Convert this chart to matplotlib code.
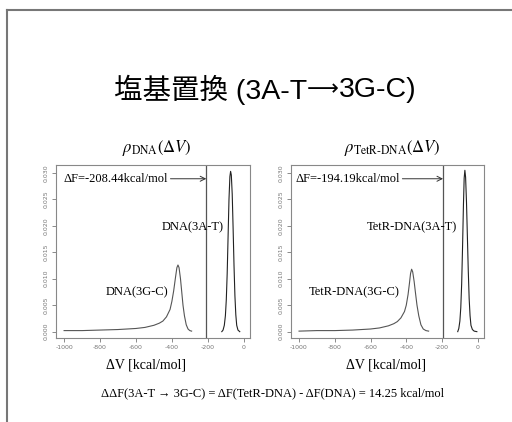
import matplotlib
matplotlib.use("Agg")
import matplotlib.pyplot as plt
from matplotlib.lines import Line2D

# density curves (x: dV in kcal/mol, y: density)
dna_gc_x = [-1000, -900, -800, -700, -600, -550, -500, -470, -450, -430, -410, -400,
            -390, -380, -372, -366, -360, -352, -345, -338, -330, -320, -310, -300, -290]
dna_gc_y = [0.0002, 0.0002, 0.0003, 0.0004, 0.0006, 0.0008, 0.0012, 0.0016, 0.0020,
            0.0028, 0.0042, 0.0057, 0.0077, 0.0102, 0.0121, 0.0126, 0.0121, 0.0100,
            0.0075, 0.0050, 0.0030, 0.0013, 0.0005, 0.0002, 0.0001]
dna_at_x = [-122, -115, -108, -102, -97, -92, -87, -82, -77, -73, -69, -64, -59,
            -54, -49, -44, -39, -32, -22]
dna_at_y = [0.0000, 0.0003, 0.0012, 0.0030, 0.0060, 0.0110, 0.0180, 0.0250, 0.0293,
            0.0303, 0.0296, 0.0260, 0.0195, 0.0125, 0.0068, 0.0032, 0.0012, 0.0003, 0.0000]

tet_gc_x = [-1000, -900, -800, -700, -600, -550, -500, -470, -450, -430, -410, -400,
            -390, -382, -376, -370, -364, -356, -348, -340, -330, -318, -305, -290, -275]
tet_gc_y = [0.0001, 0.0002, 0.0002, 0.0003, 0.0005, 0.0007, 0.0011, 0.0015, 0.0019,
            0.0026, 0.0038, 0.0050, 0.0070, 0.0092, 0.0110, 0.0118, 0.0113, 0.0095,
            0.0072, 0.0050, 0.0030, 0.0013, 0.0005, 0.0002, 0.0001]
tet_at_x = [-112, -106, -100, -95, -90, -85, -80, -76, -72, -68, -63, -58, -53,
            -48, -43, -38, -30, -20, -5]
tet_at_y = [0.0000, 0.0006, 0.0020, 0.0045, 0.0090, 0.0160, 0.0240, 0.0290, 0.0305,
            0.0292, 0.0245, 0.0180, 0.0115, 0.0062, 0.0030, 0.0012, 0.0004, 0.0001, 0.0000]

dF_dna = -208.44
dF_tet = -194.19
xticks = [-1000, -800, -600, -400, -200, 0]
yticks = [0.000, 0.005, 0.010, 0.015, 0.020, 0.025, 0.030]
title_parts = ['塩基置換 (3A-T', '⟶', '3G-C)']

plt.rcParams['mathtext.fontset'] = 'stix'
serif = ['Liberation Serif', 'DejaVu Serif']
sans_jp = ['Liberation Sans', 'Noto Sans CJK JP']

fig = plt.figure(figsize=(5.12, 4.22), dpi=100)
fig.patch.set_facecolor('white')

# slide frame
fig.add_artist(Line2D([7/512, 1.0], [1-10/422, 1-10/422], color='#777777', lw=1.5))
fig.add_artist(Line2D([7/512, 7/512], [0.0, 1-10/422], color='#777777', lw=1.5))

# title in pieces so the arrow can come from another font (long thin arrow)
fams = [sans_jp, ['DejaVu Sans'], sans_jp]
sizes = [20.5, 16, 20.5]
renderer = fig.canvas.get_renderer()
pieces = [fig.text(0, 0.787, p, ha='left', va='center', fontsize=s, family=f)
          for p, f, s in zip(title_parts, fams, sizes)]
widths = [t.get_window_extent(renderer).width / fig.bbox.width for t in pieces]
x = 0.518 - sum(widths) / 2
for t, w in zip(pieces, widths):
    t.set_x(x)
    x += w
pieces[1].set_y(0.789)


def panel(rect, gc_x, gc_y, at_x, at_y, dF, label_at, label_gc, pos_at, pos_gc, txt_x):
    ax = fig.add_axes(rect)
    ax.plot(gc_x, gc_y, color='#555555', lw=0.8)
    ax.plot(at_x, at_y, color='#222222', lw=0.8)
    ax.axvline(dF, color='#555555', lw=0.9)
    ax.set_xlim(-1045, 35)
    ax.set_ylim(-0.0012, 0.0315)
    ax.set_xticks(xticks)
    ax.set_yticks(yticks)
    ax.set_xticklabels([str(t) for t in xticks])
    ax.set_yticklabels(['%.3f' % t for t in yticks], rotation=90, va='center')
    ax.tick_params(labelsize=4.5, colors='#777777', length=3, width=0.6, pad=2)
    for s in ax.spines.values():
        s.set_color('#888888')
        s.set_linewidth(0.8)
    ax.annotate('ΔF=%.2fkcal/mol' % dF, xy=(dF, 0.0289), xytext=(txt_x, 0.0289),
                ha='left', va='center', fontsize=9, family=serif,
                arrowprops=dict(arrowstyle='->', color='#333333', lw=0.7,
                                shrinkA=0, shrinkB=0))
    ax.text(pos_at[0], pos_at[1], label_at, ha='center', va='center', fontsize=9, family=serif)
    ax.text(pos_gc[0], pos_gc[1], label_gc, ha='center', va='center', fontsize=9, family=serif)
    return ax


panel([56/512, 1-338/422, 194/512, 173/422], dna_gc_x, dna_gc_y, dna_at_x, dna_at_y,
      dF_dna, 'DNA(3A-T)', 'DNA(3G-C)', (-286, 0.0198), (-594, 0.0074), -1005)
panel([291/512, 1-338/422, 193/512, 173/422], tet_gc_x, tet_gc_y, tet_at_x, tet_at_y,
      dF_tet, 'TetR-DNA(3A-T)', 'TetR-DNA(3G-C)', (-371, 0.0197), (-691, 0.0074), -1022)

fig.text(0.307, 0.649, r'$\rho_{\mathrm{DNA}}(\Delta V)$', ha='center', va='center', fontsize=12)
fig.text(0.766, 0.649, r'$\rho_{\mathrm{TetR\text{-}DNA}}(\Delta V)$', ha='center', va='center',
         fontsize=12)

fig.text(146/512, 1-365/422, 'ΔV [kcal/mol]', ha='center', va='center', fontsize=10, family=serif)
fig.text(386/512, 1-365/422, 'ΔV [kcal/mol]', ha='center', va='center', fontsize=10, family=serif)

fig.text(273/512, 1-393/422,
         'ΔΔF(3A-T → 3G-C) = ΔF(TetR-DNA) - ΔF(DNA) = 14.25 kcal/mol',
         ha='center', va='center', fontsize=9, family=serif)

fig.savefig('out.png', dpi=100)
